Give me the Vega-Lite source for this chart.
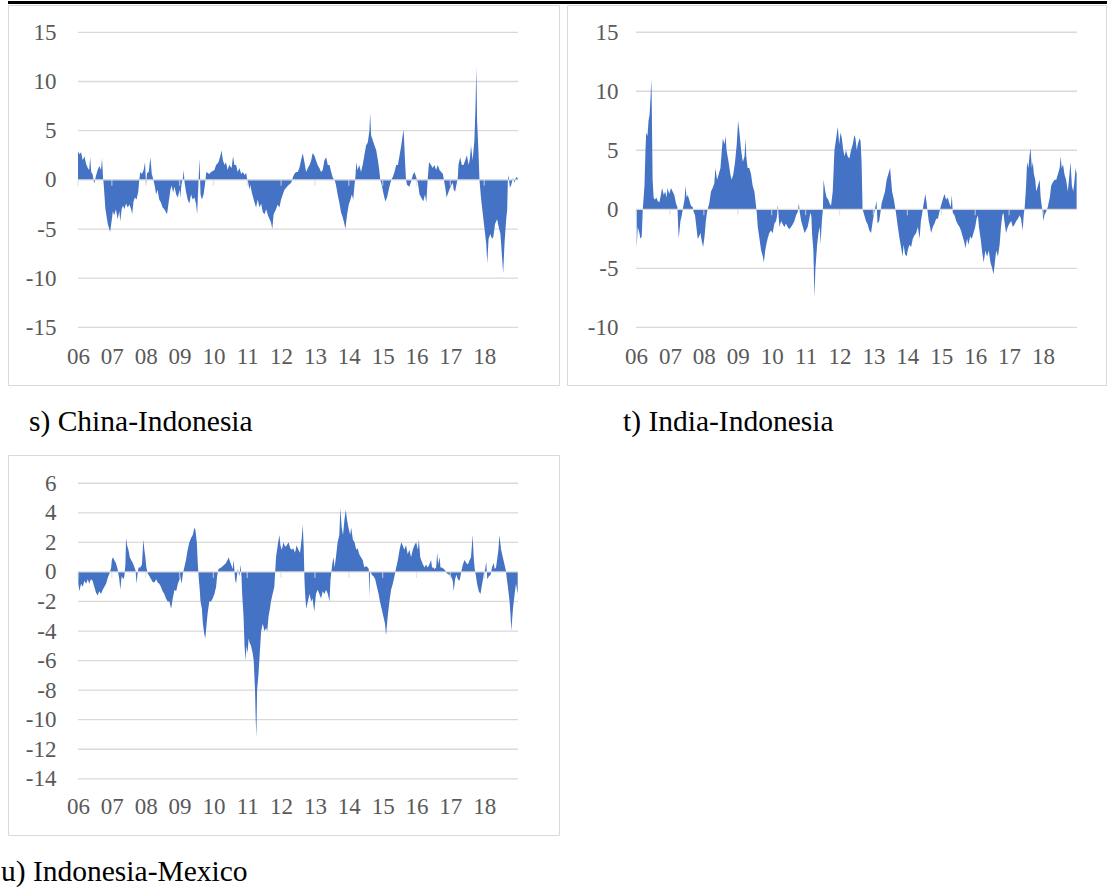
{
"$schema": "https://vega.github.io/schema/vega-lite/v6.json",
"padding": 0,
"background": "white",
"datasets": {
"s": [{"t":2006,"v":2.9},{"t":2006.04,"v":2.6},{"t":2006.09,"v":2.8},{"t":2006.14,"v":2.0},{"t":2006.19,"v":2.4},{"t":2006.24,"v":1.6},{"t":2006.29,"v":1.2},{"t":2006.33,"v":1.0},{"t":2006.36,"v":2.3},{"t":2006.39,"v":0.8},{"t":2006.43,"v":0.6},{"t":2006.48,"v":-0.4},{"t":2006.53,"v":0.4},{"t":2006.58,"v":1.0},{"t":2006.63,"v":1.4},{"t":2006.68,"v":1.0},{"t":2006.71,"v":2.2},{"t":2006.74,"v":0.2},{"t":2006.76,"v":-0.5},{"t":2006.81,"v":-3.0},{"t":2006.88,"v":-4.5},{"t":2006.95,"v":-5.3},{"t":2007.00,"v":-4.0},{"t":2007.03,"v":-3.2},{"t":2007.07,"v":-3.6},{"t":2007.12,"v":-3.0},{"t":2007.17,"v":-4.0},{"t":2007.22,"v":-3.2},{"t":2007.25,"v":-4.2},{"t":2007.29,"v":-3.0},{"t":2007.33,"v":-2.6},{"t":2007.37,"v":-3.0},{"t":2007.42,"v":-2.4},{"t":2007.47,"v":-2.8},{"t":2007.52,"v":-2.5},{"t":2007.57,"v":-3.0},{"t":2007.60,"v":-3.5},{"t":2007.64,"v":-2.2},{"t":2007.68,"v":-1.8},{"t":2007.73,"v":-2.0},{"t":2007.78,"v":-1.2},{"t":2007.81,"v":0},{"t":2007.84,"v":0.8},{"t":2007.89,"v":0.6},{"t":2007.94,"v":1.0},{"t":2007.98,"v":1.8},{"t":2008.01,"v":-0.5},{"t":2008.04,"v":0.7},{"t":2008.09,"v":0.8},{"t":2008.14,"v":2.3},{"t":2008.18,"v":0.6},{"t":2008.22,"v":0.1},{"t":2008.26,"v":-0.5},{"t":2008.31,"v":-1.5},{"t":2008.35,"v":-1.0},{"t":2008.40,"v":-2.0},{"t":2008.45,"v":-2.3},{"t":2008.50,"v":-2.8},{"t":2008.55,"v":-3.0},{"t":2008.63,"v":-3.5},{"t":2008.67,"v":-2.5},{"t":2008.73,"v":-1.0},{"t":2008.77,"v":-0.6},{"t":2008.81,"v":-1.3},{"t":2008.85,"v":-0.7},{"t":2008.90,"v":-1.5},{"t":2008.95,"v":-1.8},{"t":2009.00,"v":-1.0},{"t":2009.02,"v":-1.8},{"t":2009.06,"v":-0.4},{"t":2009.10,"v":0.2},{"t":2009.12,"v":1.0},{"t":2009.15,"v":-0.3},{"t":2009.19,"v":-1.2},{"t":2009.24,"v":-2.0},{"t":2009.29,"v":-2.4},{"t":2009.34,"v":-1.5},{"t":2009.39,"v":-2.0},{"t":2009.44,"v":-1.8},{"t":2009.49,"v":-2.5},{"t":2009.52,"v":-3.5},{"t":2009.55,"v":-1.0},{"t":2009.59,"v":2.2},{"t":2009.62,"v":-1.5},{"t":2009.66,"v":-2.0},{"t":2009.71,"v":-1.5},{"t":2009.75,"v":-0.5},{"t":2009.79,"v":0.8},{"t":2009.88,"v":0.6},{"t":2009.93,"v":0.8},{"t":2010.03,"v":1.0},{"t":2010.08,"v":1.5},{"t":2010.15,"v":1.8},{"t":2010.21,"v":2.5},{"t":2010.24,"v":3.0},{"t":2010.28,"v":2.0},{"t":2010.33,"v":1.5},{"t":2010.37,"v":1.8},{"t":2010.42,"v":1.0},{"t":2010.47,"v":1.5},{"t":2010.54,"v":1.2},{"t":2010.58,"v":2.4},{"t":2010.62,"v":1.5},{"t":2010.67,"v":1.5},{"t":2010.72,"v":0.8},{"t":2010.77,"v":1.2},{"t":2010.82,"v":0.6},{"t":2010.87,"v":0.8},{"t":2010.92,"v":0.5},{"t":2010.97,"v":0.7},{"t":2011.00,"v":0},{"t":2011.03,"v":-0.3},{"t":2011.06,"v":-1.0},{"t":2011.09,"v":-0.5},{"t":2011.13,"v":-1.2},{"t":2011.19,"v":-2.0},{"t":2011.26,"v":-2.8},{"t":2011.31,"v":-2.0},{"t":2011.36,"v":-2.8},{"t":2011.41,"v":-2.4},{"t":2011.46,"v":-3.3},{"t":2011.51,"v":-3.5},{"t":2011.56,"v":-3.0},{"t":2011.61,"v":-3.6},{"t":2011.66,"v":-4.0},{"t":2011.70,"v":-4.3},{"t":2011.74,"v":-5.0},{"t":2011.78,"v":-3.5},{"t":2011.85,"v":-3.0},{"t":2011.90,"v":-2.5},{"t":2011.95,"v":-2.8},{"t":2012.00,"v":-2.0},{"t":2012.05,"v":-1.5},{"t":2012.10,"v":-1.0},{"t":2012.20,"v":-0.6},{"t":2012.30,"v":-0.3},{"t":2012.35,"v":0.3},{"t":2012.39,"v":0.6},{"t":2012.44,"v":0.8},{"t":2012.49,"v":0.8},{"t":2012.54,"v":1.2},{"t":2012.59,"v":2.0},{"t":2012.64,"v":2.7},{"t":2012.69,"v":1.8},{"t":2012.74,"v":0.8},{"t":2012.79,"v":1.2},{"t":2012.84,"v":1.5},{"t":2012.89,"v":2.0},{"t":2012.93,"v":2.7},{"t":2012.98,"v":2.5},{"t":2013.03,"v":2.0},{"t":2013.08,"v":1.5},{"t":2013.13,"v":1.2},{"t":2013.18,"v":0.8},{"t":2013.23,"v":1.0},{"t":2013.28,"v":2.0},{"t":2013.33,"v":2.3},{"t":2013.38,"v":1.5},{"t":2013.43,"v":1.5},{"t":2013.48,"v":0.8},{"t":2013.53,"v":0.2},{"t":2013.58,"v":0},{"t":2013.62,"v":-0.5},{"t":2013.67,"v":-1.5},{"t":2013.72,"v":-2.3},{"t":2013.77,"v":-3.3},{"t":2013.82,"v":-3.8},{"t":2013.87,"v":-4.5},{"t":2013.90,"v":-5.0},{"t":2013.95,"v":-3.5},{"t":2014.00,"v":-2.5},{"t":2014.05,"v":-2.0},{"t":2014.09,"v":-1.5},{"t":2014.13,"v":-2.0},{"t":2014.17,"v":-0.5},{"t":2014.20,"v":0.5},{"t":2014.22,"v":1.8},{"t":2014.26,"v":1.0},{"t":2014.31,"v":1.5},{"t":2014.36,"v":0.8},{"t":2014.41,"v":1.5},{"t":2014.46,"v":2.5},{"t":2014.51,"v":3.5},{"t":2014.56,"v":3.8},{"t":2014.61,"v":5.0},{"t":2014.63,"v":6.8},{"t":2014.66,"v":4.5},{"t":2014.71,"v":4.0},{"t":2014.76,"v":3.5},{"t":2014.81,"v":3.0},{"t":2014.86,"v":2.0},{"t":2014.90,"v":1.0},{"t":2014.93,"v":0},{"t":2014.97,"v":-0.5},{"t":2015.03,"v":-1.5},{"t":2015.08,"v":-2.2},{"t":2015.13,"v":-1.8},{"t":2015.18,"v":-1.0},{"t":2015.23,"v":-0.3},{"t":2015.27,"v":0.1},{"t":2015.30,"v":0.3},{"t":2015.35,"v":0.8},{"t":2015.40,"v":1.5},{"t":2015.45,"v":1.5},{"t":2015.50,"v":2.5},{"t":2015.55,"v":3.5},{"t":2015.59,"v":4.5},{"t":2015.62,"v":5.1},{"t":2015.66,"v":2.0},{"t":2015.69,"v":0},{"t":2015.72,"v":-0.5},{"t":2015.79,"v":-0.7},{"t":2015.84,"v":-0.2},{"t":2015.89,"v":0.5},{"t":2015.94,"v":0.8},{"t":2015.99,"v":0.3},{"t":2016.04,"v":-0.3},{"t":2016.09,"v":-1.5},{"t":2016.14,"v":-1.8},{"t":2016.20,"v":-2.2},{"t":2016.25,"v":-1.5},{"t":2016.29,"v":-2.3},{"t":2016.33,"v":0},{"t":2016.37,"v":1.8},{"t":2016.43,"v":1.5},{"t":2016.48,"v":1.2},{"t":2016.53,"v":1.5},{"t":2016.58,"v":1.0},{"t":2016.63,"v":1.5},{"t":2016.68,"v":1.0},{"t":2016.73,"v":0.8},{"t":2016.78,"v":0.6},{"t":2016.81,"v":0},{"t":2016.85,"v":-0.8},{"t":2016.89,"v":-1.8},{"t":2016.92,"v":-1.5},{"t":2016.97,"v":-1.0},{"t":2017.02,"v":-0.6},{"t":2017.07,"v":-0.3},{"t":2017.10,"v":-1.0},{"t":2017.14,"v":-1.2},{"t":2017.18,"v":-0.5},{"t":2017.22,"v":0.2},{"t":2017.24,"v":1.5},{"t":2017.29,"v":2.3},{"t":2017.34,"v":1.5},{"t":2017.39,"v":1.5},{"t":2017.44,"v":2.0},{"t":2017.49,"v":2.5},{"t":2017.54,"v":1.5},{"t":2017.58,"v":2.2},{"t":2017.61,"v":3.5},{"t":2017.66,"v":2.0},{"t":2017.71,"v":4.0},{"t":2017.74,"v":7.0},{"t":2017.77,"v":11.5},{"t":2017.79,"v":6.0},{"t":2017.83,"v":3.0},{"t":2017.86,"v":0},{"t":2017.91,"v":-2.0},{"t":2017.96,"v":-3.5},{"t":2018.01,"v":-5.0},{"t":2018.06,"v":-6.5},{"t":2018.09,"v":-8.5},{"t":2018.13,"v":-6.0},{"t":2018.18,"v":-5.5},{"t":2018.23,"v":-6.0},{"t":2018.27,"v":-5.8},{"t":2018.32,"v":-4.5},{"t":2018.38,"v":-4.0},{"t":2018.43,"v":-4.8},{"t":2018.48,"v":-5.5},{"t":2018.53,"v":-8.0},{"t":2018.56,"v":-9.5},{"t":2018.60,"v":-6.5},{"t":2018.65,"v":-4.0},{"t":2018.68,"v":-3.0},{"t":2018.70,"v":0},{"t":2018.72,"v":0.5},{"t":2018.76,"v":-0.8},{"t":2018.80,"v":-0.5},{"t":2018.85,"v":0.2},{"t":2018.90,"v":-0.3},{"t":2018.94,"v":0.3},{"t":2018.99,"v":0.2}],
"t": [{"t":2006.02,"v":-3.3},{"t":2006.05,"v":-1.5},{"t":2006.10,"v":-2.0},{"t":2006.13,"v":-2.5},{"t":2006.17,"v":-2.3},{"t":2006.20,"v":0},{"t":2006.25,"v":2.0},{"t":2006.28,"v":5.0},{"t":2006.30,"v":6.5},{"t":2006.34,"v":6.2},{"t":2006.37,"v":7.5},{"t":2006.40,"v":8.0},{"t":2006.43,"v":9.5},{"t":2006.45,"v":11.0},{"t":2006.46,"v":10.0},{"t":2006.49,"v":2.5},{"t":2006.52,"v":1.0},{"t":2006.56,"v":0.8},{"t":2006.60,"v":1.0},{"t":2006.64,"v":0.7},{"t":2006.69,"v":0.6},{"t":2006.74,"v":1.3},{"t":2006.77,"v":1.8},{"t":2006.82,"v":1.2},{"t":2006.86,"v":1.5},{"t":2006.90,"v":1.0},{"t":2006.93,"v":1.8},{"t":2006.98,"v":1.3},{"t":2007.03,"v":1.8},{"t":2007.08,"v":1.5},{"t":2007.13,"v":1.2},{"t":2007.18,"v":0.5},{"t":2007.22,"v":0.2},{"t":2007.26,"v":-2.5},{"t":2007.31,"v":-1.0},{"t":2007.35,"v":-0.5},{"t":2007.39,"v":0.2},{"t":2007.43,"v":0.8},{"t":2007.46,"v":2.0},{"t":2007.49,"v":1.0},{"t":2007.52,"v":1.2},{"t":2007.55,"v":1.0},{"t":2007.59,"v":0.6},{"t":2007.62,"v":0.3},{"t":2007.67,"v":0.2},{"t":2007.70,"v":-0.2},{"t":2007.74,"v":-0.5},{"t":2007.78,"v":-1.5},{"t":2007.82,"v":-2.5},{"t":2007.86,"v":-2.3},{"t":2007.90,"v":-2.0},{"t":2007.94,"v":-2.7},{"t":2007.98,"v":-3.2},{"t":2008.02,"v":-2.3},{"t":2008.06,"v":-1.0},{"t":2008.09,"v":-0.3},{"t":2008.13,"v":0.2},{"t":2008.16,"v":0.5},{"t":2008.21,"v":1.5},{"t":2008.26,"v":1.8},{"t":2008.31,"v":2.2},{"t":2008.34,"v":3.5},{"t":2008.39,"v":2.5},{"t":2008.44,"v":3.0},{"t":2008.49,"v":3.5},{"t":2008.53,"v":5.0},{"t":2008.56,"v":6.0},{"t":2008.61,"v":5.5},{"t":2008.64,"v":6.2},{"t":2008.67,"v":5.0},{"t":2008.70,"v":4.5},{"t":2008.73,"v":4.0},{"t":2008.78,"v":3.0},{"t":2008.82,"v":2.5},{"t":2008.87,"v":3.0},{"t":2008.92,"v":4.0},{"t":2008.97,"v":5.5},{"t":2009.01,"v":7.5},{"t":2009.05,"v":6.5},{"t":2009.10,"v":5.0},{"t":2009.15,"v":4.0},{"t":2009.20,"v":4.5},{"t":2009.23,"v":6.0},{"t":2009.25,"v":4.5},{"t":2009.29,"v":3.5},{"t":2009.34,"v":3.5},{"t":2009.39,"v":3.0},{"t":2009.44,"v":2.0},{"t":2009.49,"v":1.5},{"t":2009.53,"v":0.5},{"t":2009.56,"v":-0.3},{"t":2009.59,"v":-1.5},{"t":2009.64,"v":-2.5},{"t":2009.69,"v":-3.5},{"t":2009.74,"v":-4.0},{"t":2009.77,"v":-4.5},{"t":2009.81,"v":-3.5},{"t":2009.84,"v":-3.0},{"t":2009.88,"v":-2.5},{"t":2009.93,"v":-2.0},{"t":2009.98,"v":-1.8},{"t":2010.03,"v":-2.0},{"t":2010.08,"v":-1.2},{"t":2010.13,"v":-1.0},{"t":2010.16,"v":-0.5},{"t":2010.18,"v":0.4},{"t":2010.21,"v":-0.8},{"t":2010.23,"v":-1.5},{"t":2010.28,"v":-1.0},{"t":2010.33,"v":-1.3},{"t":2010.38,"v":-1.5},{"t":2010.42,"v":-1.2},{"t":2010.47,"v":-1.5},{"t":2010.52,"v":-1.7},{"t":2010.57,"v":-1.5},{"t":2010.62,"v":-1.3},{"t":2010.67,"v":-1.0},{"t":2010.72,"v":-0.5},{"t":2010.77,"v":-0.2},{"t":2010.80,"v":0.5},{"t":2010.83,"v":-0.3},{"t":2010.87,"v":-1.0},{"t":2010.92,"v":-1.5},{"t":2010.97,"v":-2.0},{"t":2011.01,"v":-1.8},{"t":2011.06,"v":-1.5},{"t":2011.11,"v":-0.8},{"t":2011.14,"v":-0.3},{"t":2011.17,"v":-0.6},{"t":2011.19,"v":-2.0},{"t":2011.23,"v":-3.5},{"t":2011.26,"v":-7.5},{"t":2011.29,"v":-5.0},{"t":2011.34,"v":-3.0},{"t":2011.38,"v":-2.0},{"t":2011.42,"v":-1.5},{"t":2011.44,"v":-3.0},{"t":2011.48,"v":-1.0},{"t":2011.51,"v":0},{"t":2011.53,"v":2.5},{"t":2011.58,"v":1.5},{"t":2011.62,"v":1.0},{"t":2011.67,"v":0.8},{"t":2011.71,"v":0.5},{"t":2011.75,"v":0.3},{"t":2011.80,"v":1.5},{"t":2011.85,"v":5.0},{"t":2011.90,"v":6.0},{"t":2011.95,"v":7.0},{"t":2011.99,"v":5.5},{"t":2012.03,"v":6.5},{"t":2012.07,"v":6.0},{"t":2012.11,"v":5.0},{"t":2012.15,"v":4.5},{"t":2012.19,"v":5.0},{"t":2012.24,"v":4.5},{"t":2012.29,"v":4.3},{"t":2012.34,"v":5.0},{"t":2012.39,"v":5.5},{"t":2012.44,"v":6.3},{"t":2012.47,"v":6.0},{"t":2012.51,"v":5.0},{"t":2012.54,"v":5.5},{"t":2012.59,"v":6.0},{"t":2012.62,"v":5.8},{"t":2012.65,"v":4.0},{"t":2012.68,"v":0},{"t":2012.73,"v":-0.5},{"t":2012.78,"v":-1.0},{"t":2012.83,"v":-1.3},{"t":2012.88,"v":-1.8},{"t":2012.93,"v":-2.0},{"t":2012.98,"v":-1.0},{"t":2013.01,"v":-0.5},{"t":2013.05,"v":0.1},{"t":2013.09,"v":0.7},{"t":2013.12,"v":-1.2},{"t":2013.17,"v":-1.0},{"t":2013.21,"v":-0.2},{"t":2013.24,"v":0.5},{"t":2013.29,"v":1.0},{"t":2013.34,"v":1.5},{"t":2013.39,"v":2.5},{"t":2013.44,"v":3.0},{"t":2013.49,"v":3.5},{"t":2013.52,"v":2.5},{"t":2013.55,"v":1.5},{"t":2013.59,"v":1.0},{"t":2013.62,"v":0.5},{"t":2013.66,"v":-0.2},{"t":2013.72,"v":-1.5},{"t":2013.77,"v":-2.5},{"t":2013.82,"v":-3.3},{"t":2013.86,"v":-4.0},{"t":2013.89,"v":-3.0},{"t":2013.93,"v":-3.8},{"t":2013.98,"v":-4.0},{"t":2014.01,"v":-3.5},{"t":2014.06,"v":-3.0},{"t":2014.11,"v":-3.2},{"t":2014.16,"v":-2.5},{"t":2014.21,"v":-2.2},{"t":2014.26,"v":-2.0},{"t":2014.31,"v":-1.5},{"t":2014.36,"v":-2.5},{"t":2014.40,"v":-1.0},{"t":2014.44,"v":-0.3},{"t":2014.47,"v":0.3},{"t":2014.50,"v":0.8},{"t":2014.53,"v":1.3},{"t":2014.57,"v":0.5},{"t":2014.60,"v":-0.3},{"t":2014.63,"v":-1.0},{"t":2014.67,"v":-1.5},{"t":2014.70,"v":-2.0},{"t":2014.75,"v":-1.5},{"t":2014.80,"v":-1.2},{"t":2014.85,"v":-0.8},{"t":2014.90,"v":-0.8},{"t":2014.94,"v":-0.3},{"t":2014.98,"v":0.2},{"t":2015.01,"v":0.5},{"t":2015.06,"v":1.0},{"t":2015.10,"v":1.3},{"t":2015.14,"v":0.8},{"t":2015.19,"v":1.0},{"t":2015.24,"v":0.5},{"t":2015.28,"v":0.2},{"t":2015.31,"v":1.2},{"t":2015.34,"v":-0.3},{"t":2015.39,"v":-0.5},{"t":2015.44,"v":-1.0},{"t":2015.49,"v":-1.3},{"t":2015.54,"v":-1.5},{"t":2015.58,"v":-1.8},{"t":2015.63,"v":-2.3},{"t":2015.68,"v":-2.8},{"t":2015.71,"v":-3.3},{"t":2015.76,"v":-2.5},{"t":2015.80,"v":-3.0},{"t":2015.85,"v":-2.3},{"t":2015.90,"v":-2.5},{"t":2015.95,"v":-2.0},{"t":2016.00,"v":-1.5},{"t":2016.04,"v":-0.8},{"t":2016.08,"v":-0.5},{"t":2016.11,"v":-1.5},{"t":2016.16,"v":-2.5},{"t":2016.20,"v":-3.5},{"t":2016.25,"v":-4.5},{"t":2016.30,"v":-3.5},{"t":2016.35,"v":-4.0},{"t":2016.40,"v":-3.5},{"t":2016.45,"v":-4.5},{"t":2016.50,"v":-5.0},{"t":2016.54,"v":-5.5},{"t":2016.58,"v":-4.5},{"t":2016.62,"v":-3.5},{"t":2016.67,"v":-4.0},{"t":2016.72,"v":-3.0},{"t":2016.76,"v":-1.5},{"t":2016.80,"v":-0.5},{"t":2016.83,"v":-0.3},{"t":2016.86,"v":-1.0},{"t":2016.91,"v":-2.0},{"t":2016.96,"v":-1.5},{"t":2017.01,"v":-1.2},{"t":2017.06,"v":-1.0},{"t":2017.11,"v":-1.5},{"t":2017.16,"v":-1.3},{"t":2017.21,"v":-1.0},{"t":2017.26,"v":-0.8},{"t":2017.31,"v":-0.5},{"t":2017.35,"v":-0.8},{"t":2017.40,"v":-1.8},{"t":2017.43,"v":-0.5},{"t":2017.46,"v":0.2},{"t":2017.50,"v":2.0},{"t":2017.53,"v":4.0},{"t":2017.57,"v":3.5},{"t":2017.60,"v":4.5},{"t":2017.63,"v":5.2},{"t":2017.67,"v":3.5},{"t":2017.70,"v":4.0},{"t":2017.73,"v":3.0},{"t":2017.77,"v":2.5},{"t":2017.80,"v":1.5},{"t":2017.85,"v":2.0},{"t":2017.90,"v":2.5},{"t":2017.93,"v":1.0},{"t":2017.96,"v":0.3},{"t":2017.99,"v":-0.3},{"t":2018.01,"v":-1.0},{"t":2018.04,"v":-0.5},{"t":2018.09,"v":-0.2},{"t":2018.14,"v":0.2},{"t":2018.16,"v":0.5},{"t":2018.20,"v":1.0},{"t":2018.24,"v":2.0},{"t":2018.29,"v":2.3},{"t":2018.34,"v":2.5},{"t":2018.39,"v":2.5},{"t":2018.44,"v":3.0},{"t":2018.49,"v":3.5},{"t":2018.52,"v":4.5},{"t":2018.55,"v":3.5},{"t":2018.59,"v":3.8},{"t":2018.63,"v":3.0},{"t":2018.68,"v":2.5},{"t":2018.73,"v":1.5},{"t":2018.78,"v":3.0},{"t":2018.81,"v":4.0},{"t":2018.85,"v":2.0},{"t":2018.89,"v":1.5},{"t":2018.93,"v":2.5},{"t":2018.96,"v":3.5},{"t":2018.99,"v":3.0}],
"u": [{"t":2006.01,"v":-0.8},{"t":2006.04,"v":-1.3},{"t":2006.09,"v":-0.8},{"t":2006.14,"v":-1.0},{"t":2006.19,"v":-0.6},{"t":2006.24,"v":-0.8},{"t":2006.29,"v":-0.5},{"t":2006.33,"v":-0.8},{"t":2006.38,"v":-0.5},{"t":2006.43,"v":-0.6},{"t":2006.48,"v":-1.0},{"t":2006.53,"v":-1.4},{"t":2006.58,"v":-1.6},{"t":2006.63,"v":-1.3},{"t":2006.68,"v":-1.5},{"t":2006.73,"v":-1.2},{"t":2006.78,"v":-1.0},{"t":2006.83,"v":-0.8},{"t":2006.88,"v":-0.4},{"t":2006.93,"v":-0.1},{"t":2006.98,"v":0.3},{"t":2007.00,"v":0.8},{"t":2007.03,"v":1.0},{"t":2007.07,"v":0.8},{"t":2007.12,"v":0.6},{"t":2007.17,"v":0.2},{"t":2007.22,"v":-0.5},{"t":2007.25,"v":-1.2},{"t":2007.29,"v":-0.3},{"t":2007.34,"v":-0.5},{"t":2007.37,"v":-0.3},{"t":2007.40,"v":0.5},{"t":2007.42,"v":2.3},{"t":2007.45,"v":1.8},{"t":2007.49,"v":1.5},{"t":2007.53,"v":1.0},{"t":2007.57,"v":0.8},{"t":2007.62,"v":0.6},{"t":2007.67,"v":0.3},{"t":2007.70,"v":0.1},{"t":2007.73,"v":-0.8},{"t":2007.76,"v":-0.1},{"t":2007.79,"v":0.3},{"t":2007.84,"v":0.3},{"t":2007.89,"v":0.5},{"t":2007.93,"v":2.2},{"t":2007.96,"v":1.5},{"t":2007.99,"v":1.0},{"t":2008.02,"v":0.3},{"t":2008.06,"v":-0.1},{"t":2008.11,"v":-0.3},{"t":2008.16,"v":-0.5},{"t":2008.21,"v":-0.7},{"t":2008.26,"v":-0.7},{"t":2008.31,"v":-0.5},{"t":2008.35,"v":-0.7},{"t":2008.40,"v":-0.8},{"t":2008.45,"v":-1.0},{"t":2008.50,"v":-1.3},{"t":2008.55,"v":-1.5},{"t":2008.60,"v":-1.8},{"t":2008.65,"v":-2.0},{"t":2008.70,"v":-2.0},{"t":2008.75,"v":-2.5},{"t":2008.80,"v":-1.8},{"t":2008.85,"v":-1.2},{"t":2008.90,"v":-1.3},{"t":2008.95,"v":-0.8},{"t":2009.00,"v":-0.5},{"t":2009.02,"v":-0.3},{"t":2009.06,"v":-0.8},{"t":2009.10,"v":-0.1},{"t":2009.14,"v":0.3},{"t":2009.19,"v":0.8},{"t":2009.24,"v":1.5},{"t":2009.29,"v":2.0},{"t":2009.34,"v":2.3},{"t":2009.39,"v":2.5},{"t":2009.44,"v":3.0},{"t":2009.47,"v":2.8},{"t":2009.51,"v":2.0},{"t":2009.54,"v":0.5},{"t":2009.57,"v":-0.5},{"t":2009.59,"v":-1.0},{"t":2009.62,"v":-2.0},{"t":2009.66,"v":-2.5},{"t":2009.69,"v":-3.5},{"t":2009.73,"v":-4.2},{"t":2009.76,"v":-4.5},{"t":2009.80,"v":-3.5},{"t":2009.83,"v":-2.8},{"t":2009.88,"v":-2.0},{"t":2009.93,"v":-2.0},{"t":2009.98,"v":-1.8},{"t":2010.03,"v":-1.5},{"t":2010.08,"v":-1.0},{"t":2010.11,"v":-0.3},{"t":2010.15,"v":0.2},{"t":2010.23,"v":0.3},{"t":2010.28,"v":0.4},{"t":2010.33,"v":0.5},{"t":2010.37,"v":0.6},{"t":2010.42,"v":0.8},{"t":2010.45,"v":1.0},{"t":2010.49,"v":0.7},{"t":2010.54,"v":0.4},{"t":2010.57,"v":0.2},{"t":2010.60,"v":0.8},{"t":2010.64,"v":-0.5},{"t":2010.67,"v":-0.8},{"t":2010.72,"v":0.2},{"t":2010.77,"v":-0.3},{"t":2010.80,"v":0.5},{"t":2010.83,"v":-0.3},{"t":2010.85,"v":-1.5},{"t":2010.89,"v":-3.0},{"t":2010.92,"v":-5.0},{"t":2010.95,"v":-6.0},{"t":2010.98,"v":-5.0},{"t":2011.01,"v":-5.5},{"t":2011.04,"v":-4.5},{"t":2011.07,"v":-4.8},{"t":2011.11,"v":-5.0},{"t":2011.16,"v":-5.5},{"t":2011.19,"v":-6.0},{"t":2011.23,"v":-8.0},{"t":2011.25,"v":-10.0},{"t":2011.27,"v":-11.2},{"t":2011.29,"v":-8.0},{"t":2011.33,"v":-7.0},{"t":2011.37,"v":-5.5},{"t":2011.41,"v":-4.0},{"t":2011.46,"v":-3.5},{"t":2011.51,"v":-4.0},{"t":2011.56,"v":-3.8},{"t":2011.59,"v":-4.0},{"t":2011.63,"v":-3.0},{"t":2011.67,"v":-2.5},{"t":2011.70,"v":-2.0},{"t":2011.75,"v":-1.5},{"t":2011.80,"v":-1.0},{"t":2011.83,"v":0.2},{"t":2011.85,"v":1.0},{"t":2011.90,"v":1.8},{"t":2011.95,"v":2.5},{"t":2011.98,"v":1.8},{"t":2012.02,"v":1.5},{"t":2012.07,"v":2.0},{"t":2012.12,"v":1.7},{"t":2012.17,"v":1.8},{"t":2012.22,"v":2.0},{"t":2012.27,"v":1.6},{"t":2012.32,"v":1.5},{"t":2012.36,"v":1.6},{"t":2012.41,"v":1.3},{"t":2012.46,"v":1.8},{"t":2012.51,"v":1.5},{"t":2012.56,"v":1.3},{"t":2012.61,"v":2.3},{"t":2012.64,"v":3.2},{"t":2012.67,"v":1.5},{"t":2012.69,"v":-0.5},{"t":2012.71,"v":-1.5},{"t":2012.74,"v":-2.5},{"t":2012.79,"v":-2.0},{"t":2012.84,"v":-1.5},{"t":2012.89,"v":-2.0},{"t":2012.93,"v":-1.8},{"t":2012.98,"v":-2.7},{"t":2013.03,"v":-1.5},{"t":2013.08,"v":-1.2},{"t":2013.13,"v":-1.5},{"t":2013.18,"v":-1.8},{"t":2013.23,"v":-1.3},{"t":2013.28,"v":-1.5},{"t":2013.33,"v":-1.2},{"t":2013.38,"v":-1.5},{"t":2013.43,"v":-2.0},{"t":2013.46,"v":-0.5},{"t":2013.49,"v":0.1},{"t":2013.51,"v":0.5},{"t":2013.55,"v":1.0},{"t":2013.58,"v":0.3},{"t":2013.62,"v":1.0},{"t":2013.67,"v":2.0},{"t":2013.72,"v":2.5},{"t":2013.75,"v":4.3},{"t":2013.79,"v":3.0},{"t":2013.83,"v":2.5},{"t":2013.87,"v":3.5},{"t":2013.91,"v":4.2},{"t":2013.95,"v":3.5},{"t":2013.99,"v":3.0},{"t":2014.04,"v":2.5},{"t":2014.07,"v":3.0},{"t":2014.12,"v":2.2},{"t":2014.17,"v":2.0},{"t":2014.22,"v":1.5},{"t":2014.26,"v":1.6},{"t":2014.31,"v":1.2},{"t":2014.36,"v":1.0},{"t":2014.41,"v":0.8},{"t":2014.46,"v":0.3},{"t":2014.51,"v":0.4},{"t":2014.56,"v":0.3},{"t":2014.59,"v":0.2},{"t":2014.61,"v":-1.7},{"t":2014.63,"v":0.1},{"t":2014.68,"v":-0.2},{"t":2014.73,"v":-0.3},{"t":2014.78,"v":-0.5},{"t":2014.83,"v":-1.0},{"t":2014.88,"v":-1.5},{"t":2014.92,"v":-2.0},{"t":2014.97,"v":-2.5},{"t":2015.02,"v":-3.0},{"t":2015.07,"v":-3.5},{"t":2015.10,"v":-4.3},{"t":2015.15,"v":-3.0},{"t":2015.20,"v":-2.0},{"t":2015.25,"v":-1.2},{"t":2015.30,"v":-0.8},{"t":2015.35,"v":-0.3},{"t":2015.40,"v":0.3},{"t":2015.45,"v":0.8},{"t":2015.50,"v":1.5},{"t":2015.55,"v":2.0},{"t":2015.59,"v":1.8},{"t":2015.64,"v":1.5},{"t":2015.69,"v":1.8},{"t":2015.74,"v":1.2},{"t":2015.79,"v":1.5},{"t":2015.84,"v":1.0},{"t":2015.89,"v":1.5},{"t":2015.94,"v":1.8},{"t":2015.99,"v":2.0},{"t":2016.04,"v":1.5},{"t":2016.07,"v":2.2},{"t":2016.11,"v":1.0},{"t":2016.14,"v":0.8},{"t":2016.19,"v":0.5},{"t":2016.24,"v":0.3},{"t":2016.28,"v":0.5},{"t":2016.33,"v":0.3},{"t":2016.38,"v":0.5},{"t":2016.43,"v":0.8},{"t":2016.46,"v":0.3},{"t":2016.50,"v":0.3},{"t":2016.53,"v":0.2},{"t":2016.58,"v":0.3},{"t":2016.61,"v":1.3},{"t":2016.64,"v":0.5},{"t":2016.68,"v":1.0},{"t":2016.71,"v":0.3},{"t":2016.75,"v":0.3},{"t":2016.81,"v":0.2},{"t":2016.85,"v":0.1},{"t":2016.90,"v":-0.1},{"t":2016.97,"v":-0.2},{"t":2017.02,"v":-0.3},{"t":2017.07,"v":-0.6},{"t":2017.10,"v":-1.3},{"t":2017.14,"v":-0.5},{"t":2017.18,"v":-0.2},{"t":2017.22,"v":-0.5},{"t":2017.27,"v":-0.6},{"t":2017.30,"v":-0.3},{"t":2017.33,"v":0.1},{"t":2017.37,"v":0.5},{"t":2017.42,"v":0.8},{"t":2017.47,"v":0.6},{"t":2017.52,"v":0.5},{"t":2017.57,"v":0.8},{"t":2017.61,"v":1.0},{"t":2017.66,"v":2.5},{"t":2017.69,"v":1.0},{"t":2017.72,"v":0.2},{"t":2017.75,"v":-0.2},{"t":2017.79,"v":-0.8},{"t":2017.84,"v":-1.3},{"t":2017.89,"v":-1.5},{"t":2017.94,"v":-0.8},{"t":2017.99,"v":-0.2},{"t":2018.03,"v":0.2},{"t":2018.06,"v":0.7},{"t":2018.09,"v":-0.5},{"t":2018.14,"v":-0.3},{"t":2018.19,"v":-0.2},{"t":2018.23,"v":0.3},{"t":2018.28,"v":0.6},{"t":2018.31,"v":0.2},{"t":2018.35,"v":0.3},{"t":2018.38,"v":0.8},{"t":2018.42,"v":1.5},{"t":2018.45,"v":2.5},{"t":2018.50,"v":1.5},{"t":2018.55,"v":1.0},{"t":2018.60,"v":0.5},{"t":2018.64,"v":0.1},{"t":2018.67,"v":-0.5},{"t":2018.70,"v":-1.0},{"t":2018.75,"v":-2.0},{"t":2018.78,"v":-3.0},{"t":2018.80,"v":-4.0},{"t":2018.85,"v":-2.5},{"t":2018.90,"v":-1.5},{"t":2018.94,"v":-0.8},{"t":2018.99,"v":-1.5}],
"years": [{"yr":2006},{"yr":2007},{"yr":2008},{"yr":2009},{"yr":2010},{"yr":2011},{"yr":2012},{"yr":2013},{"yr":2014},{"yr":2015},{"yr":2016},{"yr":2017},{"yr":2018}]
},
"spacing": 0,
"vconcat": [
{"width": 1107, "height": 3, "view": {"fill": "black", "stroke": null}, "data": {"values": [{}]}, "mark": {"type": "rule", "opacity": 0}, "encoding": {}},
{"concat": [
{"width": 551, "height": 380, "title": {"text": "s) China-Indonesia", "dx": 21},
 "layer": [
  {"data": {"values": [{"g":-15},{"g":-10},{"g":-5},{"g":5},{"g":10},{"g":15}]},
   "mark": {"type": "rule", "color": "#D9D9D9", "strokeWidth": 1.3},
   "encoding": {"y": {"field": "g", "type": "quantitative", "scale": {"domain": [-20.86, 17.78], "nice": false, "zero": false}, "axis": {"values": [-15,-10,-5,0,5,10,15], "tickCount": 30, "labelExpr": "toString(datum.value)", "orient": "left", "offset": -48, "title": null, "labelAlign": "right", "labelBaseline": "middle", "labelOverlap": false}},
                "x": {"datum": 2006, "type": "quantitative", "scale": {"domain": [2003.932, 2020.21], "nice": false, "zero": false}, "axis": {"values": [2006,2007,2008,2009,2010,2011,2012,2013,2014,2015,2016,2017,2018], "tickCount": 30, "labelExpr": "substring(toString(datum.value), 2, 4)", "orient": "bottom", "offset": -40, "labelFlush": false, "labelOverlap": false, "labelBound": false, "title": null}},
                "x2": {"datum": 2019}}},
  {"data": {"name": "s"},
   "mark": {"type": "area", "color": "#4472C4", "interpolate": "linear"},
   "encoding": {"x": {"field": "t", "type": "quantitative"}, "y": {"field": "v", "type": "quantitative", "stack": null}}},
  {"data": {"values": [{}]},
   "mark": {"type": "rule", "color": "#D9D9D9", "strokeWidth": 1.3},
   "encoding": {"y": {"datum": 0, "type": "quantitative"}, "x": {"datum": 2006, "type": "quantitative"}, "x2": {"datum": 2019}}},
  {"data": {"name": "years"},
   "mark": {"type": "tick", "orient": "vertical", "color": "#D9D9D9", "thickness": 1.3, "size": 6, "yOffset": 3},
   "encoding": {"x": {"field": "yr", "type": "quantitative"}, "y": {"datum": 0, "type": "quantitative"}}}
 ]},
{"width": 539, "height": 380, "title": {"text": "t) India-Indonesia", "dx": 56},
 "layer": [
  {"data": {"values": [{"g":-10},{"g":-5},{"g":5},{"g":10},{"g":15}]},
   "mark": {"type": "rule", "color": "#D9D9D9", "strokeWidth": 1.3},
   "encoding": {"y": {"field": "g", "type": "quantitative", "scale": {"domain": [-14.89, 17.31], "nice": false, "zero": false}, "axis": {"values": [-10,-5,0,5,10,15], "tickCount": 30, "labelExpr": "toString(datum.value)", "orient": "left", "offset": -51, "title": null, "labelAlign": "right", "labelBaseline": "middle", "labelOverlap": false}},
                "x": {"datum": 2006, "type": "quantitative", "scale": {"domain": [2003.966, 2019.856], "nice": false, "zero": false}, "axis": {"values": [2006,2007,2008,2009,2010,2011,2012,2013,2014,2015,2016,2017,2018], "tickCount": 30, "labelExpr": "substring(toString(datum.value), 2, 4)", "orient": "bottom", "offset": -40, "labelFlush": false, "labelOverlap": false, "labelBound": false, "title": null}},
                "x2": {"datum": 2019}}},
  {"data": {"name": "t"},
   "mark": {"type": "area", "color": "#4472C4", "interpolate": "linear"},
   "encoding": {"x": {"field": "t", "type": "quantitative"}, "y": {"field": "v", "type": "quantitative", "stack": null}}},
  {"data": {"values": [{}]},
   "mark": {"type": "rule", "color": "#D9D9D9", "strokeWidth": 1.3},
   "encoding": {"y": {"datum": 0, "type": "quantitative"}, "x": {"datum": 2006, "type": "quantitative"}, "x2": {"datum": 2019}}},
  {"data": {"name": "years"},
   "mark": {"type": "tick", "orient": "vertical", "color": "#D9D9D9", "thickness": 1.3, "size": 6, "yOffset": 3},
   "encoding": {"x": {"field": "yr", "type": "quantitative"}, "y": {"datum": 0, "type": "quantitative"}}}
 ]},
{"width": 551, "height": 380, "title": {"text": "u) Indonesia-Mexico", "dx": -7},
 "layer": [
  {"data": {"values": [{"g":-14},{"g":-12},{"g":-10},{"g":-8},{"g":-6},{"g":-4},{"g":-2},{"g":2},{"g":4},{"g":6}]},
   "mark": {"type": "rule", "color": "#D9D9D9", "strokeWidth": 1.3},
   "encoding": {"y": {"field": "g", "type": "quantitative", "scale": {"domain": [-17.8, 7.91], "nice": false, "zero": false}, "axis": {"values": [-14,-12,-10,-8,-6,-4,-2,0,2,4,6], "tickCount": 30, "labelExpr": "toString(datum.value)", "orient": "left", "offset": -48, "title": null, "labelAlign": "right", "labelBaseline": "middle", "labelOverlap": false}},
                "x": {"datum": 2006, "type": "quantitative", "scale": {"domain": [2003.932, 2020.21], "nice": false, "zero": false}, "axis": {"values": [2006,2007,2008,2009,2010,2011,2012,2013,2014,2015,2016,2017,2018], "tickCount": 30, "labelExpr": "substring(toString(datum.value), 2, 4)", "orient": "bottom", "offset": -40, "labelFlush": false, "labelOverlap": false, "labelBound": false, "title": null}},
                "x2": {"datum": 2019}}},
  {"data": {"name": "u"},
   "mark": {"type": "area", "color": "#4472C4", "interpolate": "linear"},
   "encoding": {"x": {"field": "t", "type": "quantitative"}, "y": {"field": "v", "type": "quantitative", "stack": null}}},
  {"data": {"values": [{}]},
   "mark": {"type": "rule", "color": "#D9D9D9", "strokeWidth": 1.3},
   "encoding": {"y": {"datum": 0, "type": "quantitative"}, "x": {"datum": 2006, "type": "quantitative"}, "x2": {"datum": 2019}}},
  {"data": {"name": "years"},
   "mark": {"type": "tick", "orient": "vertical", "color": "#D9D9D9", "thickness": 1.3, "size": 6, "yOffset": 3},
   "encoding": {"x": {"field": "yr", "type": "quantitative"}, "y": {"datum": 0, "type": "quantitative"}}}
 ]}
],
"columns": 2, "bounds": "flush", "align": "each", "spacing": {"row": 70, "column": 8}}
],
"config": {
 "view": {"stroke": "#D9D9D9", "strokeWidth": 1},
 "font": "Liberation Serif",
 "axis": {"labelFont": "Liberation Serif", "labelFontSize": 23, "labelColor": "#595959", "domain": false, "ticks": false, "grid": false, "labelPadding": 0, "labelOverlap": false},
 "title": {"font": "Liberation Serif", "fontSize": 29.5, "fontWeight": "normal", "color": "black", "anchor": "start", "orient": "bottom", "baseline": "alphabetic", "offset": 23}
}
}
